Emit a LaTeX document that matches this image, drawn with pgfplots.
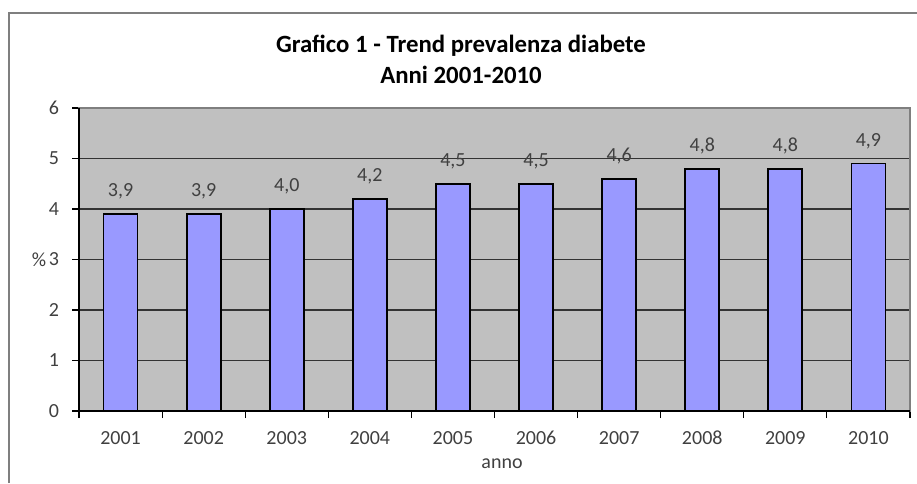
\documentclass[border=0pt]{standalone}
\usepackage{pgfplots}
\pgfplotsset{compat=1.18}
\usepackage{fontspec}
\setmainfont{Carlito}

\definecolor{plotbg}{HTML}{C0C0C0}
\definecolor{barfill}{HTML}{9999FF}
\definecolor{txt}{HTML}{404040}
\definecolor{frame}{HTML}{7F7F7F}

\begin{document}
\begin{tikzpicture}
  % 1 px of the reference = 0.5pt
  \useasboundingbox (0,0) rectangle (458.5pt,241.5pt);
  \draw[frame, line width=0.6pt] (4.5pt,0) -- (4.5pt,235pt) -- (458.5pt,235pt);

  \node[font=\bfseries\fontsize{12.4}{14}\selectfont] at (230.5pt,218.5pt) {Grafico 1 - Trend prevalenza diabete};
  \node[font=\bfseries\fontsize{12.4}{14}\selectfont] at (230.5pt,204pt) {Anni 2001-2010};

  \begin{axis}[
      at={(39.5pt,36pt)}, anchor=south west,
      scale only axis,
      width=415.5pt, height=151.5pt,
      clip=false,
      xmin=-0.5, xmax=9.5,
      ymin=0, ymax=6,
      ytick={0,1,2,3,4,5,6},
      xtick={-0.5,0.5,1.5,2.5,3.5,4.5,5.5,6.5,7.5,8.5,9.5},
      xticklabels={2001,2002,2003,2004,2005,2006,2007,2008,2009,2010,{}},
      xticklabel style={xshift=20.775pt, yshift=-3pt},
      yticklabel style={xshift=-3pt},
      tick pos=left,
      tick align=outside,
      major tick length=3.5pt,
      tick style={black, line width=0.6pt},
      ticklabel style={font=\fontsize{10}{12}\selectfont, text=txt},
      /pgf/number format/assume math mode=true,
      axis background/.style={fill=plotbg},
      axis line style={frame, line width=0.6pt},
      ymajorgrids,
      major grid style={black!80, line width=0.6pt},
    ]
    \addplot[
      ybar, bar width=17pt,
      fill=barfill, draw=black, line width=0.9pt,
      nodes near coords,
      every node near coord/.append style={font=\fontsize{10}{12}\selectfont, text=txt, yshift=3.5pt},
      /pgf/number format/.cd, fixed, fixed zerofill, precision=1, use comma, assume math mode=true,
    ] coordinates {
      (0,3.9) (1,3.9) (2,4.0) (3,4.2) (4,4.5)
      (5,4.5) (6,4.6) (7,4.8) (8,4.8) (9,4.9)
    };
    \draw[black, line width=0.7pt] (rel axis cs:0,1) -- (rel axis cs:0,0) -- (rel axis cs:1,0);
    \node[font=\fontsize{10}{12}\selectfont, text=txt] at (rel axis cs:0,0.5) [xshift=-20pt] {\%};
  \end{axis}

  \node[font=\fontsize{10}{12}\selectfont, text=txt] at (251pt,9.5pt) {anno};
\end{tikzpicture}
\end{document}
